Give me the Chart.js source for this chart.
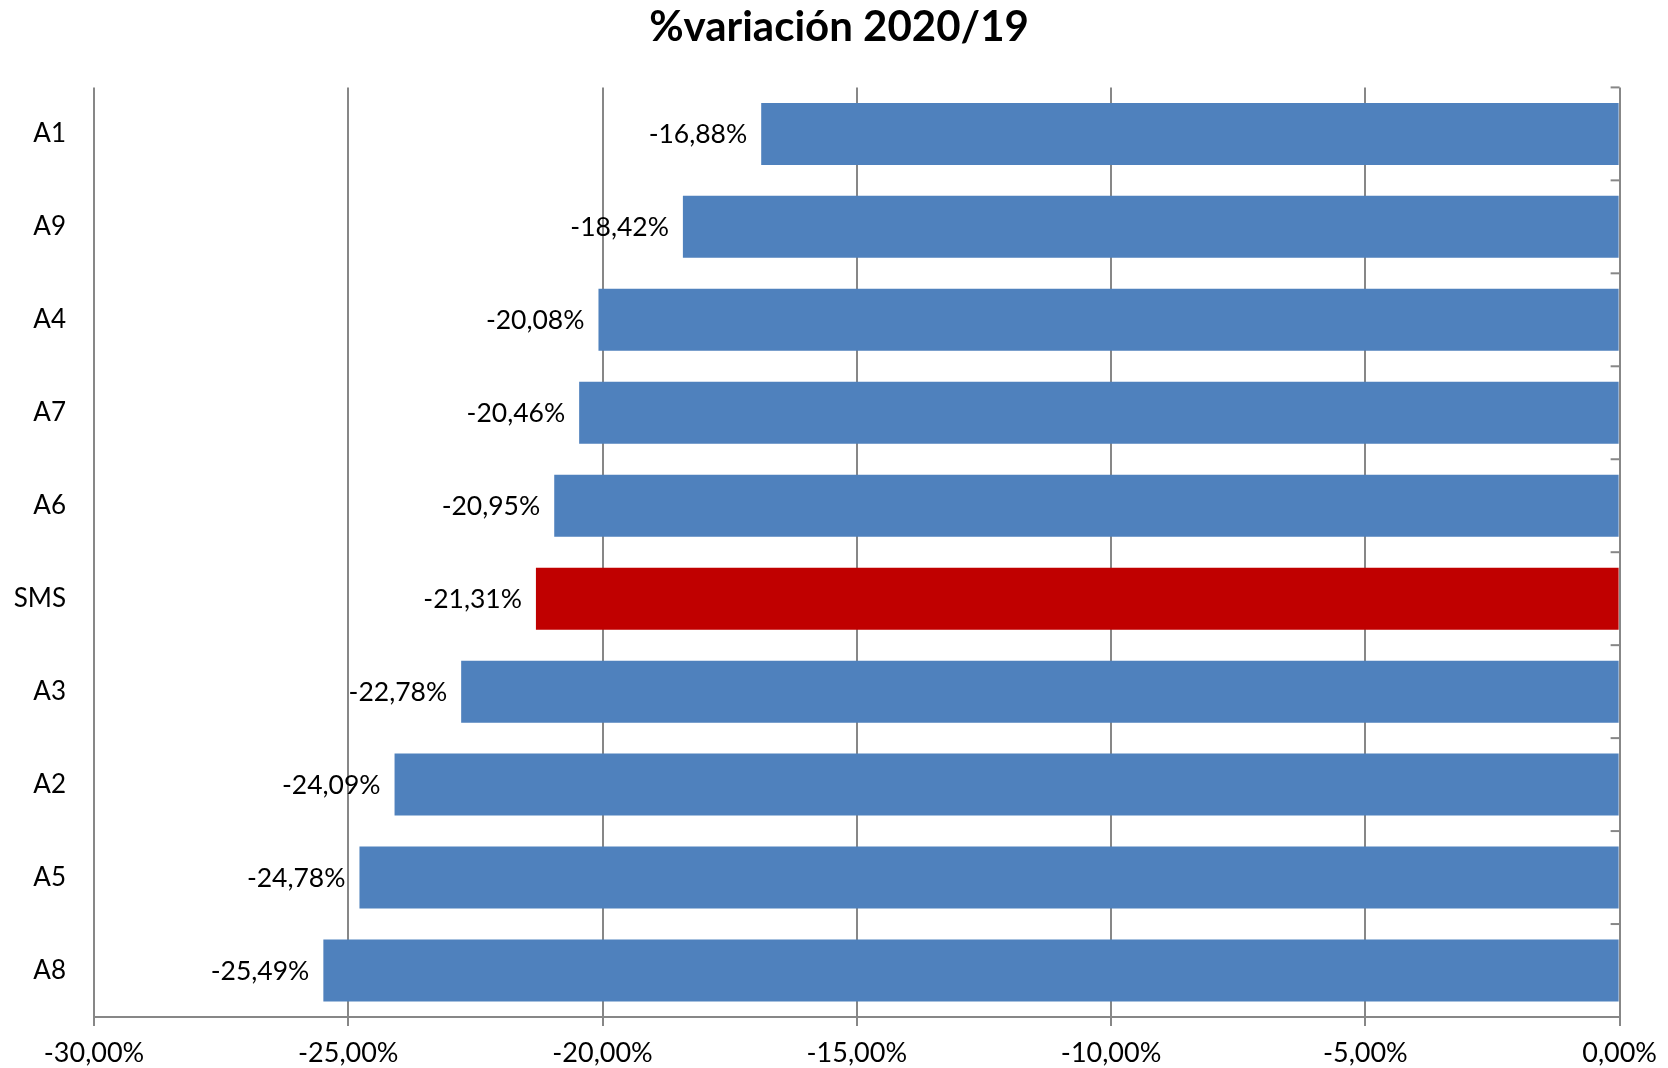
<!DOCTYPE html>
<html>
<head>
<meta charset="utf-8">
<script src="https://cdn.jsdelivr.net/npm/chart.js@4/dist/chart.umd.min.js"></script>
<style>
  html, body { margin: 0; padding: 0; background: #ffffff; }
  canvas { display: block; }
</style>
</head>
<body>
<canvas id="c" width="1668" height="1068"></canvas>
<script>
const categories = ['A1', 'A9', 'A4', 'A7', 'A6', 'SMS', 'A3', 'A2', 'A5', 'A8'];
const variation = [-16.88, -18.42, -20.08, -20.46, -20.95, -21.31, -22.78, -24.09, -24.78, -25.49];
const highlight = 'SMS';
const chartTitle = '%variación 2020/19';
const xMin = -30, xMax = 0, xStep = 5;

const fmt = v => v.toFixed(2).replace('.', ',') + '%';
const FONT = 'Lato, "Open Sans", "DejaVu Sans", sans-serif';
const GRID = '#878787';

const barColors = categories.map(c => c === highlight ? '#c00000' : '#4f81bd');

const labelPlugin = {
  id: 'barLabels',
  afterDatasetsDraw(chart) {
    const ctx = chart.ctx;
    const meta = chart.getDatasetMeta(0);
    ctx.save();
    ctx.font = '26.5px ' + FONT;
    ctx.fillStyle = '#000';
    ctx.textAlign = 'right';
    ctx.textBaseline = 'middle';
    meta.data.forEach((bar, i) => {
      ctx.fillText(fmt(variation[i]), bar.x - 14, bar.y + 1);
    });
    ctx.restore();
  }
};

const innerTicks = {
  id: 'innerTicks',
  afterDraw(chart) {
    const ctx = chart.ctx;
    const ys = chart.scales.y, xs = chart.scales.x;
    const x0 = xs.getPixelForValue(0);
    ctx.save();
    ctx.strokeStyle = GRID;
    ctx.lineWidth = 2;
    for (let i = 0; i <= categories.length; i++) {
      const y = ys.getPixelForValue(i - 0.5);
      ctx.beginPath();
      ctx.moveTo(x0 - 9, y);
      ctx.lineTo(x0, y);
      ctx.stroke();
    }
    ctx.restore();
  }
};

new Chart(document.getElementById('c'), {
  type: 'bar',
  data: {
    labels: categories,
    datasets: [{
      data: variation,
      backgroundColor: barColors,
      borderWidth: 0,
      barPercentage: 0.667,
      categoryPercentage: 1.0
    }]
  },
  options: {
    indexAxis: 'y',
    responsive: false,
    animation: false,
    layout: { padding: { left: 14, right: 4, top: 0, bottom: 0 } },
    plugins: {
      legend: { display: false },
      tooltip: { enabled: false },
      title: {
        display: true,
        text: chartTitle,
        color: '#000',
        font: { family: FONT, size: 42, weight: 'bold' },
        padding: { top: 2, bottom: 35 }
      }
    },
    scales: {
      x: {
        min: xMin, max: xMax,
        ticks: {
          stepSize: xStep,
          color: '#000',
          font: { family: FONT, size: 27 },
          padding: 11,
          maxRotation: 0,
          callback: v => fmt(v)
        },
        grid: { color: GRID, lineWidth: 2, tickLength: 9, tickColor: GRID, tickWidth: 2 },
        border: { color: GRID, width: 2 },
        afterFit(scale) { scale.height = 51; }
      },
      y: {
        ticks: {
          color: '#000',
          font: { family: FONT, size: 26 },
          padding: 28
        },
        grid: { display: false, drawTicks: false },
        border: { display: false },
        afterFit(scale) { scale.width = 80; }
      }
    }
  },
  plugins: [labelPlugin, innerTicks]
});
</script>
</body>
</html>
